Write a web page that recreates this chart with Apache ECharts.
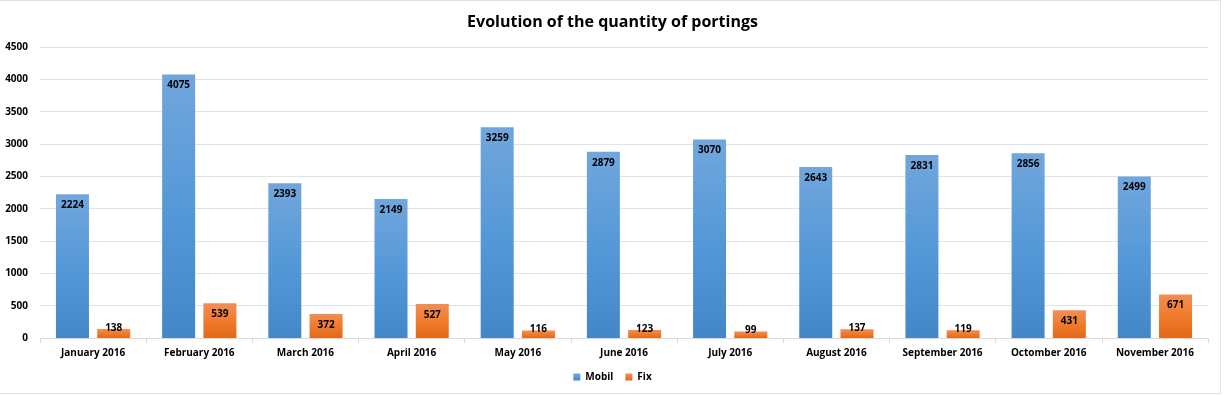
<!DOCTYPE html>
<html><head><meta charset="utf-8">
<script src="https://cdn.jsdelivr.net/npm/echarts@6/dist/echarts.min.js"></script>
<style>
html,body{margin:0;padding:0;background:#fff;}
#frame{position:absolute;left:0;top:0;width:1220px;height:392px;border-top:1px solid #dfe3ea;border-right:1px solid #dfe3ea;border-bottom:1px solid #dfe3ea;}
#c{position:absolute;left:0;top:0;width:1225px;height:395px;}
</style></head>
<body><div id="frame"></div><div id="c"></div>
<script>
const categories = ['January 2016','February 2016','March 2016','April 2016','May 2016','June 2016','July 2016','August 2016','September 2016','Octomber 2016','November 2016'];
const mobil = [2224,4075,2393,2149,3259,2879,3070,2643,2831,2856,2499];
const fix = [138,539,372,527,116,123,99,137,119,431,671];
const FONT = '"Open Sans", "Liberation Sans", sans-serif';
const chart = echarts.init(document.getElementById('c'));
const lbl = {show:true, position:'insideTop', distance:6, color:'#000', fontWeight:'bold', fontSize:10, fontFamily:FONT};
function withLabels(arr){
  return arr.map(v => v < 250 ? {value:v, label:{position:'top', distance:-4}} : v);
}
chart.setOption({
  animation:false,
  title:{text:'Evolution of the quantity of portings', left:'center', top:9,
    textStyle:{fontSize:16, fontWeight:'bold', color:'#000', fontFamily:FONT}},
  legend:{bottom:8, left:'center', icon:'rect', itemWidth:7, itemHeight:7, itemGap:12,
    textStyle:{fontSize:10, fontWeight:'bold', color:'#000', fontFamily:FONT}},
  grid:{left:40, right:17, top:47, bottom:57},
  xAxis:{type:'category', data:categories,
    axisLine:{lineStyle:{color:'#d9d9d9'}},
    axisTick:{show:true, length:5, lineStyle:{color:'#d9d9d9'}},
    axisLabel:{color:'#000', fontSize:10, fontWeight:'bold', fontFamily:FONT, margin:10}},
  yAxis:{type:'value', min:0, max:4500, interval:500,
    axisLine:{show:false}, axisTick:{show:false},
    splitLine:{lineStyle:{color:'#dfe3ea'}},
    axisLabel:{color:'#000', fontSize:10, fontWeight:'bold', fontFamily:FONT, margin:12, formatter:v=>String(v)}},
  series:[
    {name:'Mobil', type:'bar', data:withLabels(mobil), barWidth:33, barGap:'25%',
     itemStyle:{color:new echarts.graphic.LinearGradient(0,0,0,1,[{offset:0,color:'#71a6dc'},{offset:0.5,color:'#5599d8'},{offset:1,color:'#4387c6'}])},
     label:lbl},
    {name:'Fix', type:'bar', data:withLabels(fix), barWidth:33,
     itemStyle:{color:new echarts.graphic.LinearGradient(0,0,0,1,[{offset:0,color:'#f28e55'},{offset:0.5,color:'#f07b2c'},{offset:1,color:'#e2681a'}])},
     label:lbl}
  ]
});
</script></body></html>
